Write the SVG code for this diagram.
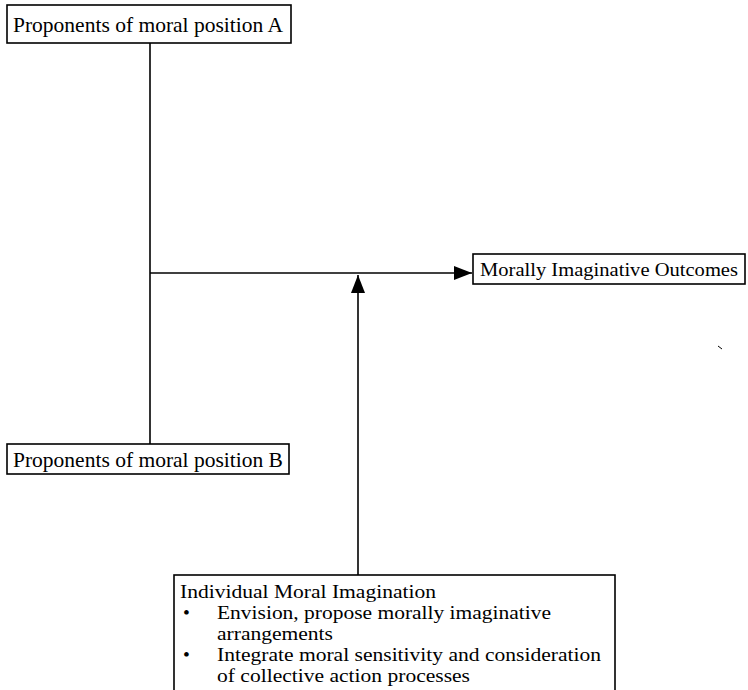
<svg xmlns="http://www.w3.org/2000/svg" width="748" height="690" viewBox="0 0 748 690">
<defs>
<style>
.box{fill:#fff;stroke:#000;stroke-width:1.6}
.t{font-family:"Liberation Serif","Times New Roman",serif;font-size:21.5px;fill:#000}
.s{font-size:19.5px}
.c{fill:none;stroke:#000;stroke-width:1.6}
</style>
<marker id="ah2" viewBox="0 0 18 14" refX="18" refY="7" markerWidth="18" markerHeight="14" markerUnits="userSpaceOnUse" orient="auto">
<path d="M0,0 L18,7 L0,14 z" fill="#000"/>
</marker>
</defs>
<rect width="748" height="690" fill="#fff"/>
<g id="connectors">
<path class="c" d="M150,43 V444"/>
<path class="c" d="M150,273 H472" marker-end="url(#ah2)"/>
<path class="c" d="M358,575 V275" marker-end="url(#ah2)"/>
<path d="M718,346 L722,349" stroke="#000" stroke-width="1"/>
</g>
<g id="nodeA">
<rect class="box" x="7" y="5" width="284" height="38"/>
<text class="t" x="13" y="32">Proponents of moral position A</text>
</g>
<g id="nodeB">
<rect class="box" x="7" y="444" width="282" height="30"/>
<text class="t" x="13" y="467">Proponents of moral position B</text>
</g>
<g id="outcomes">
<rect class="box" x="473" y="254" width="272" height="30"/>
<text class="t s" x="480" y="276" textLength="258" lengthAdjust="spacingAndGlyphs">Morally Imaginative Outcomes</text>
</g>
<g id="individual">
<rect class="box" x="174" y="575" width="441" height="130"/>
<text class="t s" x="180" y="598" textLength="256" lengthAdjust="spacingAndGlyphs">Individual Moral Imagination</text>
<text class="t s" x="183" y="619">•</text>
<text class="t s" x="217" y="619" textLength="334" lengthAdjust="spacingAndGlyphs">Envision, propose morally imaginative</text>
<text class="t s" x="217" y="640" textLength="116" lengthAdjust="spacingAndGlyphs">arrangements</text>
<text class="t s" x="183" y="661">•</text>
<text class="t s" x="217" y="661" textLength="384" lengthAdjust="spacingAndGlyphs">Integrate moral sensitivity and consideration</text>
<text class="t s" x="217" y="682" textLength="253" lengthAdjust="spacingAndGlyphs">of collective action processes</text>
</g>
</svg>
